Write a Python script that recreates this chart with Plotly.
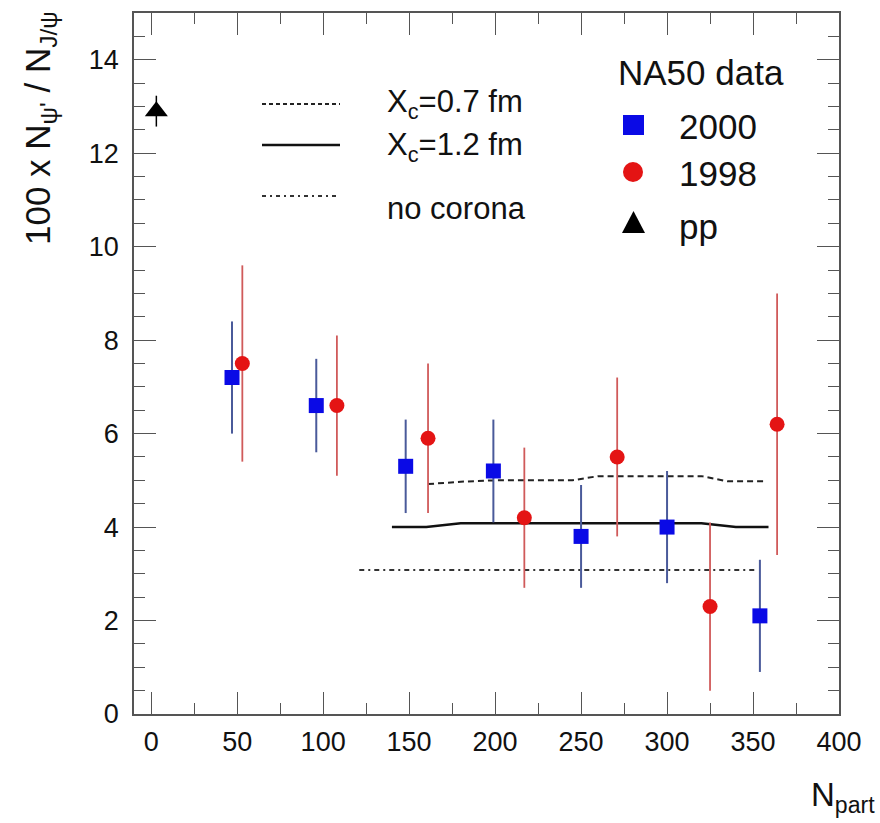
import plotly.graph_objects as go

# ---------------- data ----------------
npart_2000 = [47, 96, 148, 199, 250, 300, 354]
ratio_2000 = [7.2, 6.6, 5.3, 5.2, 3.8, 4.0, 2.1]
err_2000 = [1.2, 1.0, 1.0, 1.1, 1.1, 1.2, 1.2]

npart_1998 = [53, 108, 161, 217, 271, 325, 364]
ratio_1998 = [7.5, 6.6, 5.9, 4.2, 5.5, 2.3, 6.2]
err_1998 = [2.1, 1.5, 1.6, 1.5, 1.7, 1.8, 2.8]

npart_pp = [3]
ratio_pp = [12.9]
err_pp = [0.33]

npart_xc07 = [161, 180, 200, 245, 260, 320, 335, 357]
ratio_xc07 = [4.92, 4.97, 5.0, 5.0, 5.09, 5.09, 4.98, 4.98]

npart_xc12 = [140, 160, 180, 320, 340, 359]
ratio_xc12 = [4.0, 4.0, 4.08, 4.08, 4.0, 4.0]

npart_nocorona = [121, 352]
ratio_nocorona = [3.08, 3.08]

x_ticks = [0, 50, 100, 150, 200, 250, 300, 350, 400]
y_ticks = [0, 2, 4, 6, 8, 10, 12, 14]

# ---------------- layout geometry ----------------
W, H = 880, 823
L, R, T, B = 134, 41, 13, 109
PW, PH = W - L - R, H - T - B
FONT = "Liberation Sans, Arial, Helvetica, sans-serif"
AXC = "#555555"


def px(xp):
    return (xp - L) / PW


def py(yp):
    return (H - B - yp) / PH


fig = go.Figure()

# model curves
fig.add_trace(go.Scatter(x=npart_xc07, y=ratio_xc07, mode="lines",
                         line=dict(color="#222", width=2, dash="6px,4px"),
                         showlegend=False))
fig.add_trace(go.Scatter(x=npart_xc12, y=ratio_xc12, mode="lines",
                         line=dict(color="#111", width=2.5),
                         showlegend=False))
fig.add_trace(go.Scatter(x=npart_nocorona, y=ratio_nocorona, mode="lines",
                         line=dict(color="#333", width=2, dash="5px,4px,2px,4px"),
                         showlegend=False))

# data
fig.add_trace(go.Scatter(x=npart_2000, y=ratio_2000, mode="markers",
                         marker=dict(symbol="square", size=15, color="#0a0ae6",
                                     line=dict(width=0)),
                         error_y=dict(type="data", array=err_2000, visible=True,
                                      width=0, thickness=2, color="#4a5a9a"),
                         showlegend=False))
fig.add_trace(go.Scatter(x=npart_1998, y=ratio_1998, mode="markers",
                         marker=dict(symbol="circle", size=15, color="#e41414",
                                     line=dict(width=0)),
                         error_y=dict(type="data", array=err_1998, visible=True,
                                      width=0, thickness=1.8, color="#d05a5a"),
                         showlegend=False))
fig.add_trace(go.Scatter(x=npart_pp, y=ratio_pp, mode="markers",
                         marker=dict(symbol="triangle-up", size=20, color="black",
                                     line=dict(width=0)),
                         error_y=dict(type="data", array=err_pp, visible=True,
                                      width=0, thickness=1.5, color="black"),
                         showlegend=False))

axis_common = dict(
    showgrid=False, zeroline=False, showline=True, linecolor=AXC, linewidth=1.5,
    mirror="ticks", ticks="inside", ticklen=22, tickwidth=1, tickcolor=AXC,
    automargin=False,
    tickfont=dict(family=FONT, size=27, color="#111"),
)

fig.update_layout(
    width=W, height=H,
    margin=dict(l=L, r=R, t=T, b=B, autoexpand=False),
    paper_bgcolor="white", plot_bgcolor="white",
    showlegend=False,
    xaxis=dict(range=[-10, 400], tickmode="array", tickvals=x_ticks,
               minor=dict(dtick=25, tick0=0, ticks="inside", ticklen=11,
                          tickcolor=AXC, tickwidth=1),
               ticklabelstandoff=3, **axis_common),
    yaxis=dict(range=[0, 15], tickmode="array", tickvals=y_ticks,
               minor=dict(dtick=0.5, tick0=0, ticks="inside", ticklen=11,
                          tickcolor=AXC, tickwidth=1),
               ticklabelstandoff=8, **axis_common),
)

# axis titles
fig.add_annotation(xref="paper", yref="paper", x=px(40), y=py(128),
                   text="100 x N<sub>ψ'</sub> / N<sub>J/ψ</sub>", textangle=-90,
                   showarrow=False, xanchor="center", yanchor="middle",
                   font=dict(family=FONT, size=35, color="#111"))
fig.add_annotation(xref="paper", yref="paper", x=px(877), y=py(797),
                   text="N<sub>part</sub>", showarrow=False,
                   xanchor="right", yanchor="middle",
                   font=dict(family=FONT, size=33, color="#111"))

# legend 1 (model curves)
leg1 = [("X<sub>c</sub>=0.7 fm", 104, dict(color="#222", width=2, dash="4px,3px"), 104),
        ("X<sub>c</sub>=1.2 fm", 145, dict(color="#111", width=2.5), 147),
        ("no corona", 196, dict(color="#333", width=2, dash="4px,4px,2px,4px"), 209)]
for txt, ly, ln, ty in leg1:
    fig.add_shape(type="line", xref="paper", yref="paper",
                  x0=px(262), x1=px(340), y0=py(ly), y1=py(ly), line=ln)
    fig.add_annotation(xref="paper", yref="paper", x=px(385), y=py(ty),
                       text=txt, showarrow=False, xanchor="left", yanchor="middle",
                       font=dict(family=FONT, size=31, color="#111"))

# legend 2 (data)
fig.add_annotation(xref="paper", yref="paper", x=px(616), y=py(72),
                   text="NA50 data", showarrow=False, xanchor="left", yanchor="middle",
                   font=dict(family=FONT, size=35, color="#111"))
fig.add_shape(type="rect", xref="paper", yref="paper",
              x0=px(623), x1=px(644), y0=py(135), y1=py(115),
              fillcolor="#0a0ae6", line=dict(width=0))
fig.add_shape(type="circle", xref="paper", yref="paper",
              x0=px(623), x1=px(643), y0=py(182), y1=py(162),
              fillcolor="#e41414", line=dict(width=0))
fig.add_shape(type="path", xref="paper", yref="paper",
              path=f"M {px(622)},{py(233)} L {px(645)},{py(233)} L {px(633.5)},{py(211)} Z",
              fillcolor="black", line=dict(width=0))
for txt, ty in [("2000", 126), ("1998", 173), ("pp", 226)]:
    fig.add_annotation(xref="paper", yref="paper", x=px(677), y=py(ty),
                       text=txt, showarrow=False, xanchor="left", yanchor="middle",
                       font=dict(family=FONT, size=35, color="#111"))

fig.write_html("out.html",
               config={"displayModeBar": False},
               post_script="document.body.style.margin='0';document.body.style.overflow='hidden';")
